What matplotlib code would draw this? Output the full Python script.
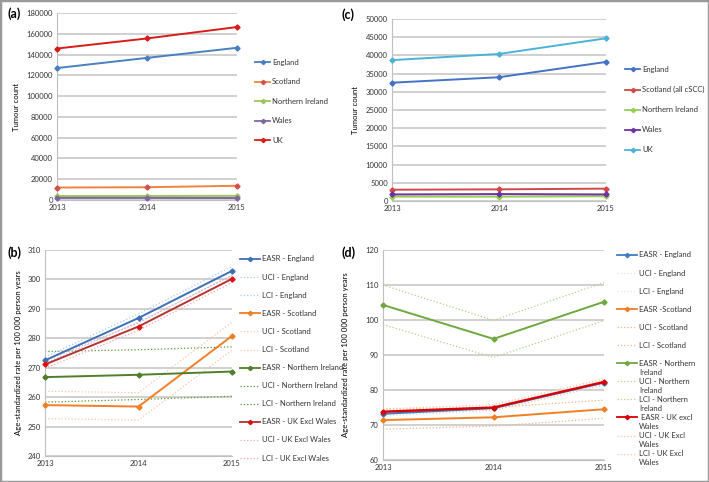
import matplotlib
matplotlib.use("Agg")
import matplotlib.pyplot as plt
from matplotlib.lines import Line2D
from matplotlib.patches import Rectangle

plt.rcParams['font.family'] = ['Lato', 'DejaVu Sans']
plt.rcParams['font.size'] = 5.5

W, H = 709, 482
years = [2013, 2014, 2015]

# (a) tumour counts
a_england = [127000, 136800, 146500]
a_scotland = [12000, 12300, 13700]
a_ni = [3800, 3900, 4000]
a_wales = [2000, 2000, 1900]
a_uk = [145800, 155500, 166500]

# (c) tumour counts
c_england = [32500, 34000, 38200]
c_scotland = [3100, 3200, 3400]
c_ni = [1200, 1200, 1300]
c_wales = [1800, 1900, 1800]
c_uk = [38700, 40400, 44700]

# (b) rates with confidence intervals
b_eng = [272.5, 286.9, 302.9]
b_eng_u = [273.6, 288.3, 304.4]
b_eng_l = [271.4, 285.5, 301.4]
b_sco = [257.3, 256.8, 280.8]
b_sco_u = [262.0, 261.5, 285.5]
b_sco_l = [252.7, 252.2, 276.0]
b_ni = [266.8, 267.6, 268.7]
b_ni_u = [275.5, 276.1, 277.1]
b_ni_l = [258.3, 259.2, 260.3]
b_uk = [271.1, 284.0, 300.2]
b_uk_u = [272.4, 285.3, 301.4]
b_uk_l = [269.8, 282.7, 299.0]

# (d) rates with confidence intervals
d_eng = [73.2, 74.8, 82.1]
d_eng_u = [73.8, 75.4, 82.8]
d_eng_l = [72.6, 74.2, 81.5]
d_sco = [71.4, 72.2, 74.5]
d_sco_u = [74.5, 75.0, 77.1]
d_sco_l = [68.8, 69.7, 71.9]
d_ni = [104.3, 94.6, 105.2]
d_ni_u = [110.0, 99.9, 110.7]
d_ni_l = [98.7, 89.3, 99.8]
d_uk = [73.8, 75.0, 82.3]
d_uk_u = [74.6, 75.8, 83.2]
d_uk_l = [73.1, 74.2, 81.4]

fig = plt.figure(figsize=(W / 100, H / 100), dpi=100)
fig.add_artist(Rectangle((0, 0), 1, 1, transform=fig.transFigure, fill=False,
                         ec='#9a9a9a', lw=2.5))


def make_ax(l, t, r, b):
    ax = fig.add_axes([l / W, 1 - b / H, (r - l) / W, (b - t) / H])
    ax.set_xlim(2013, 2015)
    ax.set_xticks(years)
    for s in ['top', 'right']:
        ax.spines[s].set_visible(False)
    ax.spines['left'].set_color('#bfbfbf')
    ax.spines['bottom'].set_color('#bfbfbf')
    ax.tick_params(length=0, pad=3, labelsize=5.5, colors='#333333')
    ax.grid(axis='y', color='#c4c4c4', lw=1.1)
    ax.set_axisbelow(True)
    return ax


def fig_text(x, y, s, **kw):
    fig.text(x / W, 1 - y / H, s, **kw)


def legend(x, y0, dy, entries, length=15):
    # entries: (label lines, color, style, marker color)
    for i, (label, color, ls, mk) in enumerate(entries):
        y = y0 + i * dy
        ln = Line2D([x / W, (x + length) / W], [1 - y / H, 1 - y / H], color=color,
                    ls=ls, lw=1.3 if ls == '-' else 0.9,
                    transform=fig.transFigure)
        fig.add_artist(ln)
        if mk:
            fig.add_artist(Line2D([(x + length / 2) / W], [1 - y / H], marker='D',
                                  ms=2.2, color=mk, transform=fig.transFigure))
        for j, part in enumerate(label.split('\n')):
            fig_text(x + length + 2, y + j * 9.3, part, va='center', ha='left',
                     fontsize=5.5, color='#333333')


def main(ax, ys, color, mk=None, lw=1.4):
    ax.plot(years, ys, color=color, lw=lw, marker='D', ms=2.6,
            mfc=mk or color, mec=mk or color, clip_on=False, zorder=3)


def ci(ax, ys, color):
    ax.plot(years, ys, color=color, lw=0.9, ls=':', clip_on=False, zorder=2)


# ---- (a)
ax = make_ax(57, 13, 237, 200)
ax.set_ylim(0, 180000)
ax.set_yticks(range(0, 180001, 20000))
main(ax, a_england, '#4a7fc1')
main(ax, a_scotland, '#f0843c', '#d05050')
main(ax, a_ni, '#9bc45a')
main(ax, a_wales, '#8064a2')
main(ax, a_uk, '#d81c1c')
ax.set_ylabel('Tumour count', fontsize=5.6, labelpad=5)
fig_text(7, 14, '(a)', fontsize=9, fontweight='bold', va='center')
legend(255, 62, 19.5, [('England', '#4a7fc1', '-', '#4a7fc1'),
                       ('Scotland', '#f0843c', '-', '#d05050'),
                       ('Northern Ireland', '#9bc45a', '-', '#9bc45a'),
                       ('Wales', '#8064a2', '-', '#8064a2'),
                       ('UK', '#d81c1c', '-', '#d81c1c')])

# ---- (c)
ax = make_ax(392, 19, 606, 201)
ax.set_ylim(0, 50000)
ax.set_yticks(range(0, 50001, 5000))
main(ax, c_england, '#4472c4')
main(ax, c_scotland, '#d04848')
main(ax, c_ni, '#92d050')
main(ax, c_wales, '#7030a0')
main(ax, c_uk, '#4bb3d6')
ax.set_ylabel('Tumour count', fontsize=5.6, labelpad=5)
fig_text(342, 15, '(c)', fontsize=9, fontweight='bold', va='center')
legend(625, 69.5, 20.1, [('England', '#4472c4', '-', '#4472c4'),
                         ('Scotland (all cSCC)', '#d04848', '-', '#d04848'),
                         ('Northern Ireland', '#92d050', '-', '#92d050'),
                         ('Wales', '#7030a0', '-', '#7030a0'),
                         ('UK', '#4bb3d6', '-', '#4bb3d6')])

# ---- (b)
ax = make_ax(45, 250, 232, 456)
ax.set_ylim(240, 310)
ax.set_yticks(range(240, 311, 10))
ci(ax, b_eng_u, '#a9cdf0')
ci(ax, b_eng_l, '#a9cdf0')
ci(ax, b_sco_u, '#f9c9a4')
ci(ax, b_sco_l, '#f9c9a4')
ci(ax, b_ni_u, '#5a9a32')
ci(ax, b_ni_l, '#5a9a32')
ci(ax, b_uk_u, '#f2a8a8')
ci(ax, b_uk_l, '#f2a8a8')
main(ax, b_eng, '#3f6fb5')
main(ax, b_sco, '#f07f25')
main(ax, b_ni, '#4f7f2d')
main(ax, b_uk, '#b83232', '#e01010')
ax.set_ylabel('Age-standardized rate per 100 000 person years', fontsize=5.6,
              labelpad=4)
fig_text(7, 253, '(b)', fontsize=9, fontweight='bold', va='center')
legend(240, 259, 18.1, [
    ('EASR - England', '#3f6fb5', '-', '#3f6fb5'),
    ('UCI - England', '#a9cdf0', ':', None),
    ('LCI - England', '#a9cdf0', ':', None),
    ('EASR - Scotland', '#f07f25', '-', '#f07f25'),
    ('UCI - Scotland', '#f9c9a4', ':', None),
    ('LCI - Scotland', '#f9c9a4', ':', None),
    ('EASR - Northern Ireland', '#4f7f2d', '-', '#4f7f2d'),
    ('UCI - Northern Ireland', '#5a9a32', ':', None),
    ('LCI - Northern Ireland', '#5a9a32', ':', None),
    ('EASR - UK Excl Wales', '#b83232', '-', '#e01010'),
    ('UCI - UK Excl Wales', '#f2a8a8', ':', None),
    ('LCI - UK Excl Wales', '#f2a8a8', ':', None)], length=20)

# ---- (d)
ax = make_ax(383, 250, 604, 460)
ax.set_ylim(60, 120)
ax.set_yticks(range(60, 121, 10))
ci(ax, d_eng_u, '#d6eaf8')
ci(ax, d_eng_l, '#d6eaf8')
ci(ax, d_sco_u, '#f5b482')
ci(ax, d_sco_l, '#f5b482')
ci(ax, d_ni_u, '#b5d38a')
ci(ax, d_ni_l, '#b5d38a')
ci(ax, d_uk_u, '#f8c8a0')
ci(ax, d_uk_l, '#f8c8a0')
main(ax, d_eng, '#3d7cc4')
main(ax, d_sco, '#f07f25')
main(ax, d_ni, '#70a840')
main(ax, d_uk, '#d80000', lw=1.7)
ax.set_ylabel('Age-standardized rate per 100 000 person years', fontsize=5.6,
              labelpad=12)
fig_text(342, 253, '(d)', fontsize=9, fontweight='bold', va='center')
legend(617, 255, 18.05, [
    ('EASR - England', '#3d7cc4', '-', '#3d7cc4'),
    ('UCI - England', '#d6eaf8', ':', None),
    ('LCI - England', '#d6eaf8', ':', None),
    ('EASR -Scotland', '#f07f25', '-', '#f07f25'),
    ('UCI - Scotland', '#f5b482', ':', None),
    ('LCI - Scotland', '#f5b482', ':', None),
    ('EASR - Northern\nIreland', '#70a840', '-', '#70a840'),
    ('UCI - Northern\nIreland', '#b5d38a', ':', None),
    ('LCI - Northern\nIreland', '#b5d38a', ':', None),
    (' EASR - UK excl\nWales', '#d80000', '-', '#d80000'),
    ('UCI - UK Excl\nWales', '#f8c8a0', ':', None),
    ('LCI - UK Excl\nWales', '#f8c8a0', ':', None)], length=20)

fig.savefig('out.png', dpi=100)
